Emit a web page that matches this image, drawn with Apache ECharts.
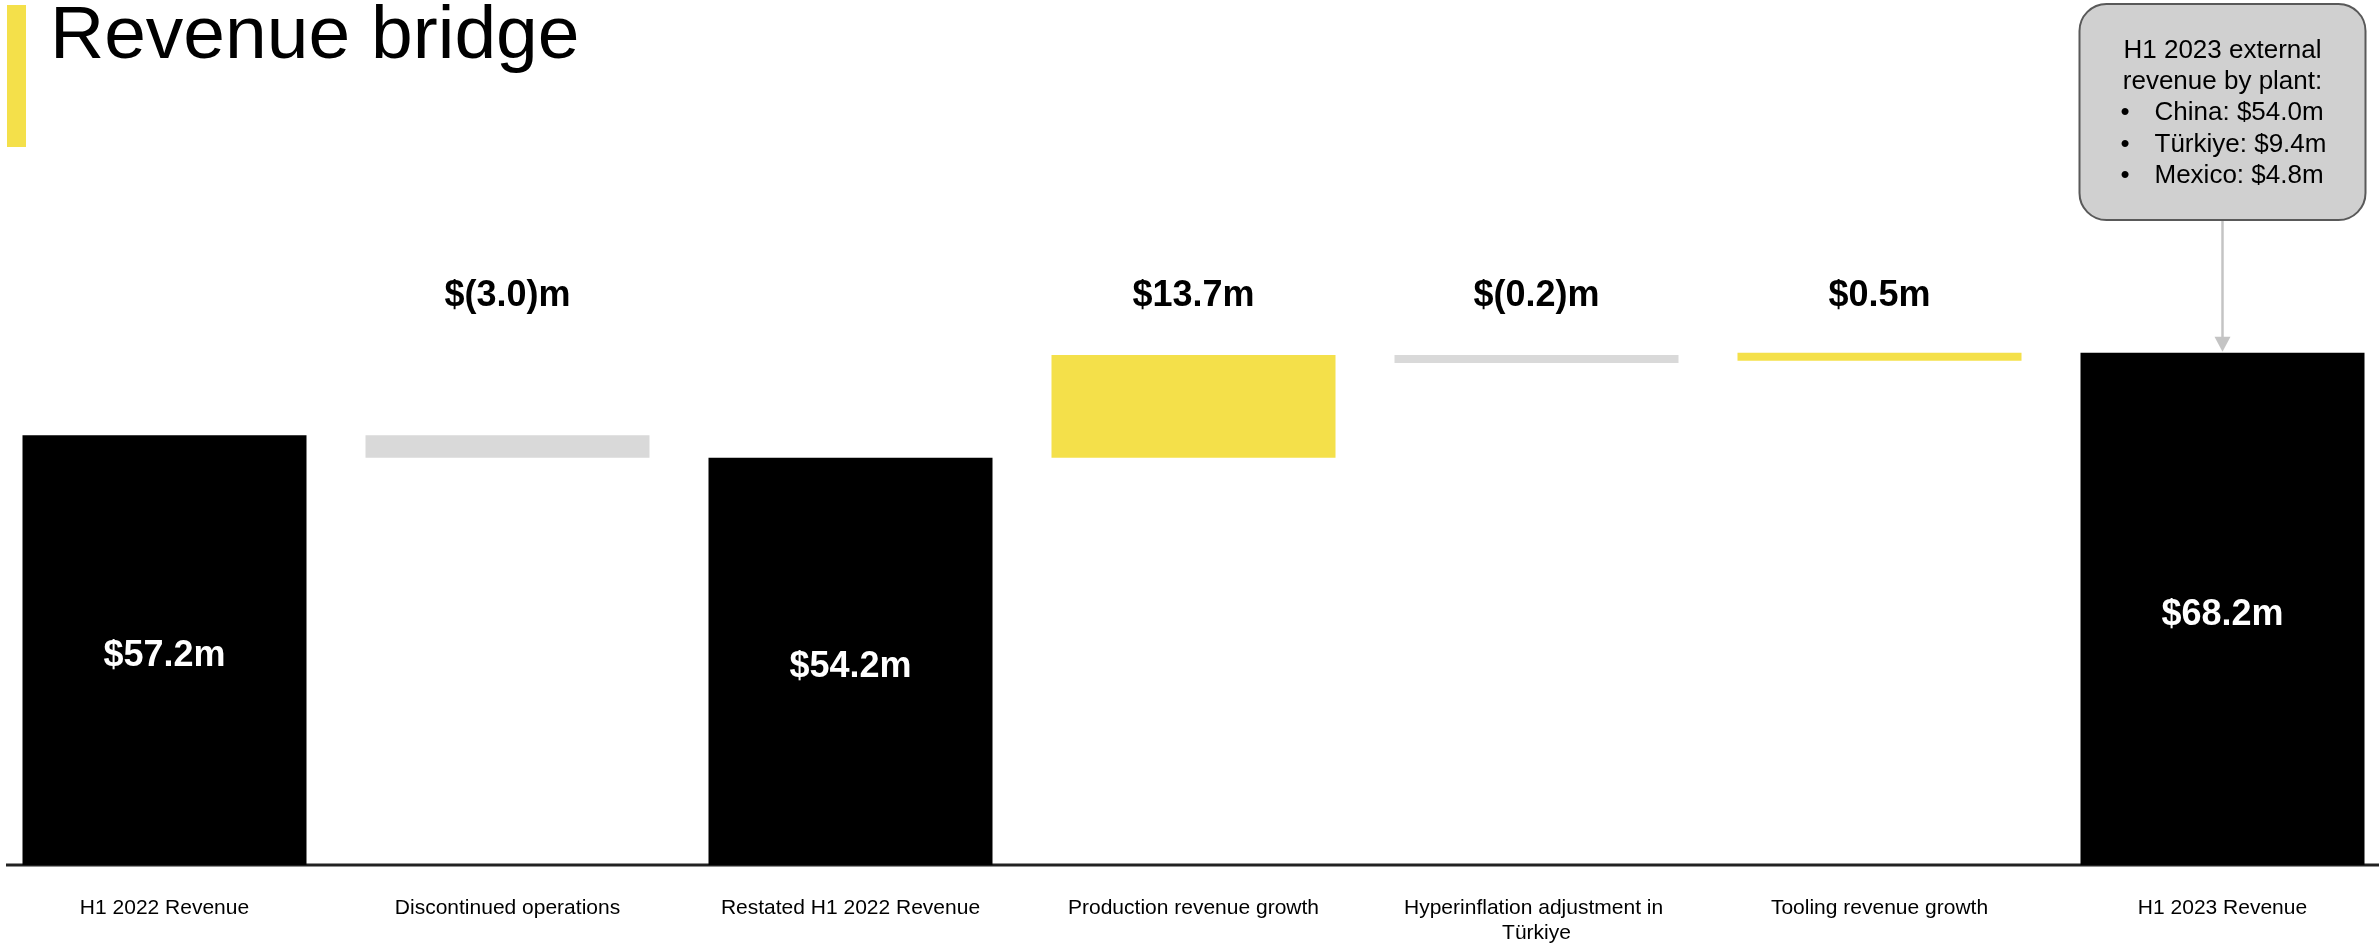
<!DOCTYPE html>
<html>
<head>
<meta charset="utf-8">
<title>Revenue bridge</title>
<script src="https://cdn.jsdelivr.net/npm/echarts@6/dist/echarts.min.js"></script>
<style>
  html, body { margin: 0; padding: 0; background: #ffffff; overflow: hidden; width: 2379px; height: 946px; }
  /* the chart canvas bleeds a few pixels past both page edges so the outer bars sit close to them */
  #chart { position: absolute; left: -7px; top: 0; width: 2401px; height: 946px; }
</style>
</head>
<body>
<div id="chart"></div>
<script>
// ---- data ----
const categories = [
  'H1 2022 Revenue',
  'Discontinued operations',
  'Restated H1 2022 Revenue',
  'Production revenue growth',
  'Hyperinflation adjustment in Türkiye',
  'Tooling revenue growth',
  'H1 2023 Revenue'
];
const totals  = [57.2, null, 54.2, null, null, null, 68.2];
const changes = [null, -3.0, null, 13.7, -0.2, 0.5, null];
const calloutHeading = ['H1 2023 external', 'revenue by plant:'];
const calloutItems = ['China: $54.0m', 'Türkiye: $9.4m', 'Mexico: $4.8m'];

// ---- styling ----
const FONT = '"Liberation Sans", Arial, Helvetica, sans-serif';
const BLACK = '#000000';
const YELLOW = '#F4E04A';
const GREY = '#D9D9D9';
const DELTA_LABEL_LEVEL = 75.75;   // value-axis height of the change labels
const PAGE_X = 7;                  // canvas x of the page's left edge

function money(v) {
  return v < 0 ? '$(' + Math.abs(v).toFixed(1) + ')m' : '$' + v.toFixed(1) + 'm';
}

// Waterfall: an invisible offset bar lifts each change to its upper edge,
// the visible bar then hangs down from there.
const offsets = [];
const bars = [];
let level = 0;
categories.forEach(function (c, i) {
  if (totals[i] != null) {
    level = totals[i];
    offsets.push(0);
    bars.push({ value: totals[i], itemStyle: { color: BLACK }, label: { show: true } });
  } else {
    const start = level;
    const end = level + changes[i];
    offsets.push(Math.max(start, end));
    bars.push({
      value: -Math.abs(changes[i]),
      itemStyle: { color: changes[i] >= 0 ? YELLOW : GREY },
      label: { show: false }
    });
    level = end;
  }
});
const changeLabels = changes.map(function (v, i) {
  return v == null ? [i, '-'] : [i, DELTA_LABEL_LEVEL];
});

const chart = echarts.init(document.getElementById('chart'), null, { renderer: 'canvas' });

const option = {
  backgroundColor: '#ffffff',
  animation: false,
  textStyle: { fontFamily: FONT },
  grid: { left: 0, right: 0, top: 264, bottom: 81, containLabel: false },
  xAxis: {
    type: 'category',
    data: categories,
    axisTick: { show: false },
    axisLine: { show: false },
    axisLabel: {
      interval: 0,
      margin: 31,
      color: '#000000',
      fontFamily: FONT,
      fontSize: 21,
      lineHeight: 25,
      width: 300,
      overflow: 'break',
      align: 'center'
    },
    splitLine: { show: false }
  },
  yAxis: {
    type: 'value',
    min: 0,
    max: 80,
    show: false,
    splitLine: { show: false }
  },
  series: [
    {
      name: 'offset',
      type: 'bar',
      stack: 'bridge',
      stackStrategy: 'all',
      silent: true,
      barWidth: 284,
      itemStyle: { color: 'rgba(0,0,0,0)' },
      data: offsets
    },
    {
      name: 'bridge',
      type: 'bar',
      stack: 'bridge',
      stackStrategy: 'all',
      barWidth: 284,
      barMinHeight: 8,
      label: {
        position: 'inside',
        offset: [0, 6],
        color: '#ffffff',
        textBorderWidth: 0,
        fontFamily: FONT,
        fontWeight: 'bold',
        fontSize: 36,
        formatter: function (p) { return money(totals[p.dataIndex]); }
      },
      data: bars
    },
    {
      name: 'change labels',
      type: 'scatter',
      symbolSize: 0,
      silent: true,
      itemStyle: { color: 'rgba(0,0,0,0)', opacity: 1 },
      label: {
        show: true,
        position: 'inside',
        color: '#000000',
        textBorderWidth: 0,
        fontFamily: FONT,
        fontWeight: 'bold',
        fontSize: 36,
        formatter: function (p) { return money(changes[p.dataIndex]); }
      },
      data: changeLabels
    }
  ]
};
chart.setOption(option);

// ---- title, accent bar, baseline and plant callout ----
const lastIdx = categories.length - 1;
const target = chart.convertToPixel({ seriesIndex: 1 }, [lastIdx, totals[lastIdx]]);
const baseY = chart.convertToPixel({ yAxisIndex: 0 }, 0);
const boxCx = target[0];
const boxBottom = 220;

const calloutText = [];
calloutHeading.forEach(function (t, k) {
  calloutText.push({
    type: 'text',
    style: {
      text: t, x: boxCx, y: 50.5 + k * 31.4,
      align: 'center', verticalAlign: 'middle',
      font: '26px ' + FONT, fill: '#000000'
    }
  });
});
calloutItems.forEach(function (t, k) {
  const y = 50.5 + (k + 2) * 31.4;
  calloutText.push({
    type: 'text',
    style: { text: '•', x: boxCx - 102, y: y, align: 'left', verticalAlign: 'middle', font: '26px ' + FONT, fill: '#000000' }
  });
  calloutText.push({
    type: 'text',
    style: { text: t, x: boxCx - 68, y: y, align: 'left', verticalAlign: 'middle', font: '26px ' + FONT, fill: '#000000' }
  });
});

chart.setOption({
  graphic: [
    { type: 'rect', shape: { x: PAGE_X + 7, y: 5, width: 19, height: 142 }, style: { fill: YELLOW } },
    {
      type: 'text',
      style: {
        text: 'Revenue bridge', x: PAGE_X + 50, y: 37,
        align: 'left', verticalAlign: 'middle',
        font: '75px ' + FONT, fill: '#000000'
      }
    },
    {
      type: 'line',
      z: 1,
      shape: { x1: PAGE_X + 6, y1: baseY, x2: PAGE_X + 2379, y2: baseY },
      style: { stroke: '#222222', lineWidth: 3 }
    },
    {
      type: 'rect',
      shape: { x: boxCx - 143, y: 4, width: 286, height: boxBottom - 4, r: 27 },
      style: { fill: '#D0D0D0', stroke: '#595959', lineWidth: 2 }
    }
  ].concat(calloutText).concat([
    {
      type: 'line',
      shape: { x1: boxCx, y1: boxBottom + 1, x2: boxCx, y2: target[1] - 14 },
      style: { stroke: '#C4C4C4', lineWidth: 2.5 }
    },
    {
      type: 'polygon',
      shape: { points: [[boxCx - 8, target[1] - 16], [boxCx + 8, target[1] - 16], [boxCx, target[1] - 1]] },
      style: { fill: '#C4C4C4' }
    }
  ])
});
</script>
</body>
</html>
